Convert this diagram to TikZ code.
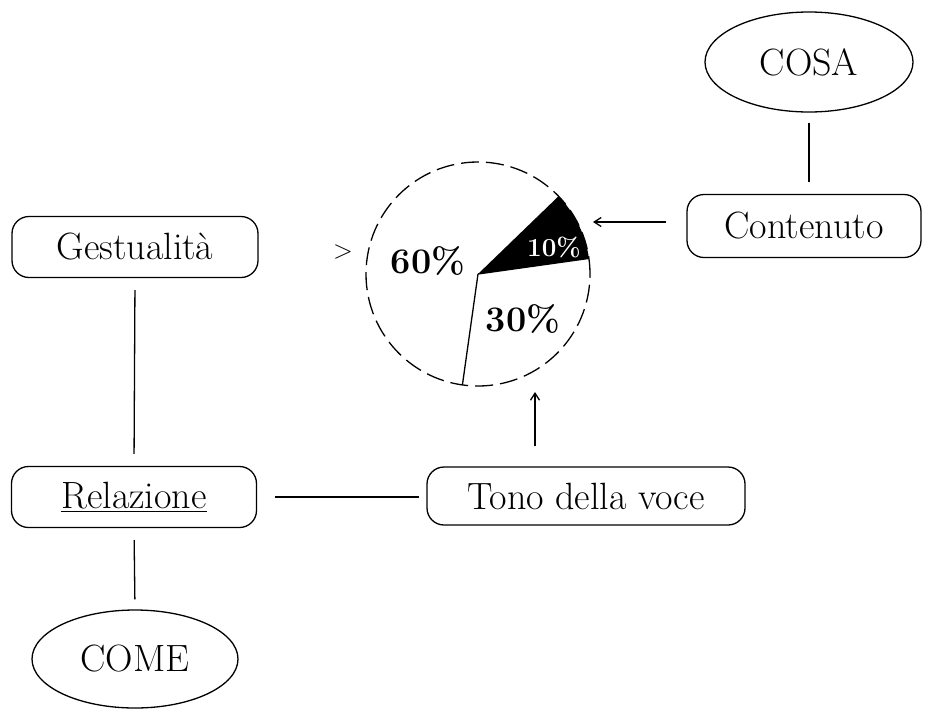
\documentclass[tikz,border=0pt]{standalone}
\usepackage{fontspec}
\usetikzlibrary{arrows.meta,shapes.geometric}
\begin{document}
\begin{tikzpicture}[x=1pt,y=-1pt,
  lw/.style={line width=1.3pt},
  capsule/.style={lw,draw,rounded corners=17pt,inner sep=0pt,font=\fontsize{38}{44}\selectfont},
  oval/.style={lw,draw,ellipse,inner sep=0pt,font=\fontsize{38}{44}\selectfont},
  conn/.style={lw},
  arr/.style={lw,-{Straight Barb[length=7pt,width=9pt]}},
  pct/.style={font=\fontsize{36}{40}\selectfont\bfseries,inner sep=0pt}]
\useasboundingbox (0,0) rectangle (925,715);
% nodes
\node[oval,minimum width=208,minimum height=100] (cosa) at (809,62) {COSA};
\node[capsule,minimum width=234,minimum height=63] (cont) at (804,226) {Contenuto};
\node[capsule,minimum width=246,minimum height=61] (gest) at (135,247) {Gestualità};
\node[capsule,minimum width=245,minimum height=61] (rel) at (134,497) {\underline{Relazione}};
\node[capsule,minimum width=318,minimum height=58] (tono) at (586,496) {Tono della voce};
\node[oval,minimum width=206,minimum height=98] (come) at (135,659) {COME};
% pie
\coordinate (pc) at (478,274);
\node[lw,draw,dashed,dash pattern=on 18pt off 7pt,circle,minimum size=224,inner sep=0pt] (pie) at (pc) {};
\fill[black] (pc) -- ++(-8:112) arc[start angle=-8,end angle=-44,radius=112] -- cycle;
\draw[lw] (pc) -- ++(98:112);
\draw[lw] (pc) -- ++(-8:112);
\node[pct] (p60) at (428,261) {60\%};
\node[pct,font=\fontsize{26}{30}\selectfont\bfseries,text=white] (p10) at (554,247) {10\%};
\node[pct] (p30) at (523,319) {30\%};
\node[font=\fontsize{26}{30}\selectfont,inner sep=0pt] (gt) at (343,252) {>};
% connectors
\draw[conn,shorten <=10pt,shorten >=12pt] (cosa.south) -- (cosa.south |- cont.north);
\coordinate (tipc) at (593,222);
\draw[arr] ([xshift=-20pt,yshift=4pt]cont.west) -- (tipc);
\coordinate (tipt) at (535,392);
\draw[arr] (tipt |- tono.north) ++(0,-20) -- (tipt);
\draw[conn,shorten <=18pt,shorten >=7pt] (rel.east) -- (rel.east -| tono.west);
\draw[conn,shorten <=12pt,shorten >=12pt] (gest.south) -- (rel.north);
\draw[conn,shorten <=12pt,shorten >=10pt] (rel.south) -- (come.north);
\end{tikzpicture}
\end{document}
